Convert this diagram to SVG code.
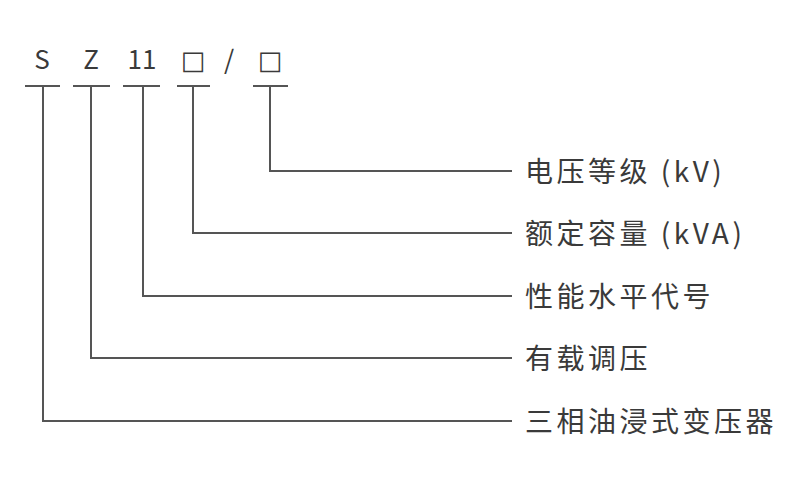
<svg xmlns="http://www.w3.org/2000/svg" width="800" height="500" viewBox="0 0 800 500">
<style>
.t{font-family:"Noto Sans CJK SC","Noto Sans",sans-serif;fill:#3a3a3a}
.c{font-size:26px;text-anchor:middle}
.b{font-family:"DejaVu Sans",sans-serif;font-size:26px;text-anchor:middle;fill:#3a3a3a}
.l{font-size:28px;letter-spacing:3.5px}
.ln{stroke:#555;stroke-width:2;fill:none}
</style>
<rect width="800" height="500" fill="#fff"/>
<g id="code">
<text class="t c" x="42" y="69">S</text>
<text class="t c" x="91" y="69">Z</text>
<text class="t c" x="142" y="69">11</text>
<text class="b" x="193" y="69">□</text>
<text class="t c" x="229" y="69">/</text>
<text class="b" x="270" y="69">□</text>
</g>
<g id="connectors" class="ln">
<path d="M25 86H60M43 86V421H512"/>
<path d="M73 86H110M91 86V358H512"/>
<path d="M123 86H160M143 86V296H512"/>
<path d="M177 86H210M193 86V233H512"/>
<path d="M253 86H288M270 86V171H512"/>
</g>
<g id="n1"><text class="t l" x="525" y="182">电压等级 (kV)</text></g>
<g id="n2"><text class="t l" x="525" y="244">额定容量 (kVA)</text></g>
<g id="n3"><text class="t l" x="525" y="307">性能水平代号</text></g>
<g id="n4"><text class="t l" x="525" y="369">有载调压</text></g>
<g id="n5"><text class="t l" x="525" y="432">三相油浸式变压器</text></g>
</svg>
